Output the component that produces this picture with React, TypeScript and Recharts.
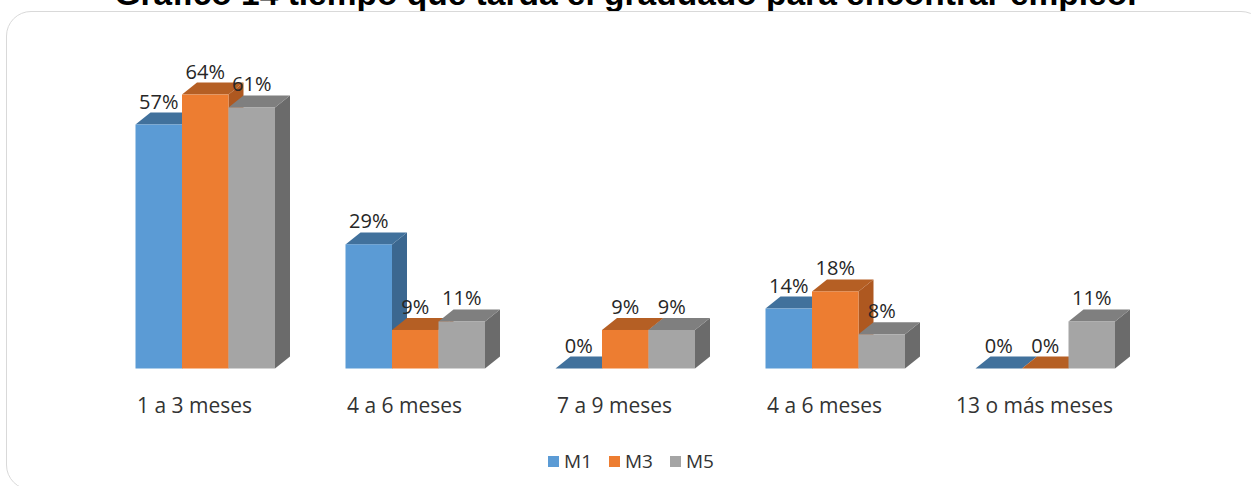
import React from 'react'
import { BarChart, Bar, XAxis, YAxis, Legend, LabelList } from 'recharts'

const CATEGORIES = ['1 a 3 meses', '4 a 6 meses', '7 a 9 meses', '4 a 6 meses', '13 o más meses']
const M1 = [57, 29, 0, 14, 0]
const M3 = [64, 9, 9, 18, 0]
const M5 = [61, 11, 9, 8, 11]
const SERIES_NAMES = ['M1', 'M3', 'M5']

const TITLE = 'Gráfico 14 tiempo que tarda el graduado para encontrar empleo.'

// front / top / side shades for each series
const SHADES: Record<string, { front: string; top: string; side: string }> = {
  M1: { front: '#5B9BD5', top: '#41719C', side: '#3B6790' },
  M3: { front: '#ED7D31', top: '#B55F24', side: '#AE5820' },
  M5: { front: '#A5A5A5', top: '#7F7F7F', side: '#6B6B6B' },
}

const DX = 15
const DY = 12
const FONT = '"Open Sans", "DejaVu Sans", sans-serif'

const data = CATEGORIES.map((name, i) => ({ name, M1: M1[i], M3: M3[i], M5: M5[i] }))

function makeBox(key: string) {
  const c = SHADES[key]
  return (props: any) => {
    const { x, y, width: w, height: h } = props
    if (x == null || y == null) return null
    return (
      <g>
        <polygon
          points={`${x + w},${y} ${x + w + DX},${y - DY} ${x + w + DX},${y + h - DY} ${x + w},${y + h}`}
          fill={c.side}
        />
        <polygon
          points={`${x},${y} ${x + DX},${y - DY} ${x + w + DX},${y - DY} ${x + w},${y}`}
          fill={c.top}
        />
        {h > 0 && <rect x={x} y={y} width={w} height={h} fill={c.front} />}
      </g>
    )
  }
}

const PctLabel = (props: any) => {
  const { x, y, width, value } = props
  return (
    <text x={x + width / 2} y={y - DY - 4} textAnchor="middle" fontFamily={FONT} fontSize={20} fill="#262626">
      {`${value}%`}
    </text>
  )
}

const CatTick = (props: any) => {
  const { x, y, payload } = props
  return (
    <text x={x - 11} y={y} dy={36.5} textAnchor="middle" fontFamily={FONT} fontSize={21} fill="#333333">
      {payload.value}
    </text>
  )
}

const LegendBox = () => (
  <div style={{ display: 'flex', justifyContent: 'center', paddingLeft: 28, fontFamily: FONT, fontSize: 19, color: '#333333' }}>
    {SERIES_NAMES.map((s) => (
      <div key={s} style={{ display: 'flex', alignItems: 'center', marginRight: 17 }}>
        <span style={{ width: 11, height: 11, background: SHADES[s].front, marginRight: 5, display: 'inline-block' }} />
        <span>{s}</span>
      </div>
    ))}
  </div>
)

export default function App() {
  return (
    <div style={{ position: 'fixed', left: 0, top: 0, width: 1251, height: 486, overflow: 'hidden', background: '#fff' }}>
      <div
        style={{
          position: 'absolute', left: 0, top: -25, width: 1251, textAlign: 'center',
          fontFamily: '"Liberation Sans", Arial, sans-serif', fontWeight: 'bold', fontSize: 33.5,
          lineHeight: '38px', color: '#000',
        }}
      >
        {TITLE}
      </div>
      <div
        style={{
          position: 'absolute', left: 6, top: 11, width: 1260, height: 479,
          border: '1.5px solid #D9D9D9', borderRadius: 25, background: '#fff', boxSizing: 'border-box',
        }}
      />
      <div style={{ position: 'absolute', left: 0, top: 0 }}>
        <BarChart
          width={1251}
          height={486}
          data={data}
          margin={{ top: 68.9, right: 100.5, bottom: 87.5, left: 100.5 }}
          barSize={46.5}
          barGap={0}
        >
          <XAxis dataKey="name" axisLine={false} tickLine={false} height={30} tick={<CatTick />} interval={0} />
          <YAxis hide domain={[0, 70]} />
          <Legend
            verticalAlign="middle"
            align="center"
            content={<LegendBox />}
            wrapperStyle={{ left: 0, top: 448, width: 1251 }}
          />
          {SERIES_NAMES.map((s) => (
            <Bar key={s} dataKey={s} isAnimationActive={false} shape={makeBox(s)}>
              <LabelList dataKey={s} content={<PctLabel />} />
            </Bar>
          ))}
        </BarChart>
      </div>
    </div>
  )
}
